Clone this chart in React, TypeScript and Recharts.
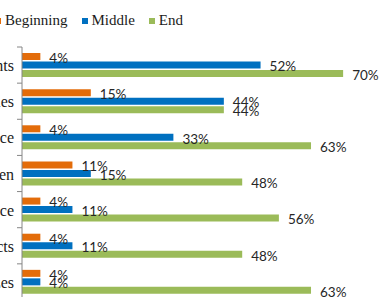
import { BarChart, Bar, XAxis, YAxis, Legend, LabelList } from 'recharts';

// Categories are cut off at the left edge in the source picture
const categories = ['Nutrients', 'Calories', 'Energy balance', 'Gluten', 'Food choice', 'Food facts', 'Serving sizes'];
const beginning = [4, 15, 4, 11, 4, 4, 4];
const middle = [52, 44, 33, 15, 11, 11, 4];
const end = [70, 44, 63, 48, 56, 48, 63];
const seriesNames = ['Beginning', 'Middle', 'End'];
const seriesColors = ['#E36C0A', '#0070C0', '#9BBB59'];

const data = categories.map((name, i) => ({
  name,
  beginning: beginning[i],
  middle: middle[i],
  end: end[i],
}));

const AXIS_COLOR = '#868686';
const TICK_SIZE = 5;
const TICK_GAP = 3;
const labelFont = { fill: '#262626', fontSize: 13.5, fontFamily: 'Lato, "Open Sans", sans-serif' };

// Category tick: label at band centre, tick mark on band boundary (Excel style)
function CategoryTick({ x, y, payload, index, visibleTicksCount }: any) {
  const half = payload?.offset || 0;
  const axisX = x + TICK_GAP + TICK_SIZE;
  return (
    <g>
      <line x1={axisX - TICK_SIZE} x2={axisX} y1={y - half} y2={y - half} stroke={AXIS_COLOR} />
      {index === visibleTicksCount - 1 && (
        <line x1={axisX - TICK_SIZE} x2={axisX} y1={y + half} y2={y + half} stroke={AXIS_COLOR} />
      )}
      <text
        x={x}
        y={y}
        dy="0.38em"
        textAnchor="end"
        fill="#1a1a1a"
        style={{ fontSize: 16, fontFamily: '"Liberation Serif", "Times New Roman", serif' }}
      >
        {payload.value}
      </text>
    </g>
  );
}

function LegendContent({ payload }: any) {
  const items = [...(payload || [])].sort(
    (a: any, b: any) => seriesNames.indexOf(a.value) - seriesNames.indexOf(b.value)
  );
  return (
    <div style={{ display: 'flex', alignItems: 'center', fontFamily: '"Liberation Serif", serif', fontSize: 15, color: '#1a1a1a', whiteSpace: 'nowrap' }}>
      {items.map((entry: any) => (
        <span key={entry.value} style={{ display: 'flex', alignItems: 'center', marginRight: 14 }}>
          <span style={{ display: 'inline-block', width: 6, height: 6, background: entry.color, marginRight: 4 }} />
          {entry.value}
        </span>
      ))}
    </div>
  );
}

export default function App() {
  return (
    <div style={{ position: 'absolute', left: 0, top: 0, width: 380, height: 297, overflow: 'hidden', background: '#fff' }}>
      <div style={{ position: 'absolute', left: -78, top: 0 }}>
        <BarChart
          width={560}
          height={310}
          data={data}
          layout="vertical"
          barGap={1.5}
          margin={{ top: 47, right: 93, bottom: 10, left: 0 }}
        >
          <XAxis type="number" domain={[0, 80]} hide />
          <YAxis
            type="category"
            dataKey="name"
            width={100}
            axisLine={{ stroke: AXIS_COLOR }}
            tickLine={false}
            tickSize={TICK_SIZE}
            tickMargin={TICK_GAP}
            tick={<CategoryTick />}
          />
          <Legend
            verticalAlign="middle"
            align="center"
            layout="horizontal"
            content={<LegendContent />}
            wrapperStyle={{ top: 12, left: 73, width: 300 }}
          />
          <Bar dataKey="beginning" name={seriesNames[0]} fill={seriesColors[0]} barSize={7} isAnimationActive={false}>
            <LabelList dataKey="beginning" position="right" offset={9} dy={1.5} formatter={(v: any) => `${v}%`} {...labelFont} />
          </Bar>
          <Bar dataKey="middle" name={seriesNames[1]} fill={seriesColors[1]} barSize={7} isAnimationActive={false}>
            <LabelList dataKey="middle" position="right" offset={9} dy={1.5} formatter={(v: any) => `${v}%`} {...labelFont} />
          </Bar>
          <Bar dataKey="end" name={seriesNames[2]} fill={seriesColors[2]} barSize={7} isAnimationActive={false}>
            <LabelList dataKey="end" position="right" offset={9} dy={1.5} formatter={(v: any) => `${v}%`} {...labelFont} />
          </Bar>
        </BarChart>
      </div>
    </div>
  );
}
